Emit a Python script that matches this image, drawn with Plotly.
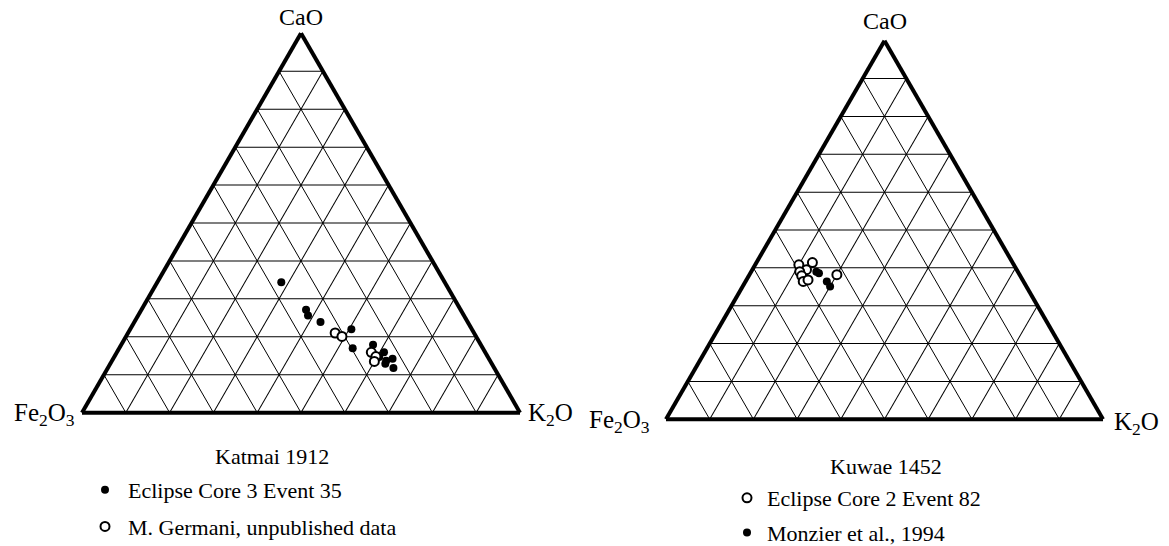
import plotly.graph_objects as go

# Katmai 1912 — Eclipse Core 3 Event 35 (wt. % normalised: CaO, Fe2O3, K2O)
katmai_e35_cao = [34.4, 27.1, 25.6, 23.9, 22.0, 17.0, 17.9, 15.9, 14.2, 12.9, 11.8, 14.7, 13.7]
katmai_e35_fe2o3 = [37.3, 35.3, 35.6, 33.6, 27.5, 29.7, 24.6, 23.1, 22.0, 24.3, 23.0, 24.8, 23.7]
katmai_e35_k2o = [28.3, 37.6, 38.8, 42.5, 50.5, 53.3, 57.5, 61.0, 63.8, 62.8, 65.2, 60.5, 62.6]

# Katmai 1912 — M. Germani, unpublished data
katmai_mg_cao = [21.0, 20.1, 15.9, 14.8, 13.5]
katmai_mg_fe2o3 = [31.7, 30.6, 26.0, 25.5, 26.5]
katmai_mg_k2o = [47.3, 49.3, 58.1, 59.7, 60.0]

# Kuwae 1452 — Eclipse Core 2 Event 82
kuwae_e82_cao = [40.8, 41.4, 39.5, 39.0, 37.9, 36.4, 36.8, 38.2]
kuwae_e82_fe2o3 = [49.2, 45.8, 48.1, 49.9, 50.0, 50.4, 49.1, 41.8]
kuwae_e82_k2o = [10.0, 12.8, 12.4, 11.1, 12.1, 13.2, 14.1, 20.0]

# Kuwae 1452 — Monzier et al., 1994
kuwae_mz_cao = [39.0, 38.6, 36.4, 35.1]
kuwae_mz_fe2o3 = [46.1, 45.7, 45.0, 44.9]
kuwae_mz_k2o = [14.9, 15.7, 18.6, 20.0]

plot_titles = ["Katmai 1912", "Kuwae 1452"]
series_names = ["Eclipse Core 3 Event 35", "M. Germani, unpublished data",
                "Eclipse Core 2 Event 82", "Monzier et al., 1994"]

W, H = 1169, 546
SERIF = "Liberation Serif, DejaVu Serif, Times New Roman, serif"


def px(x):
    return x / W


def py(y):
    return 1 - y / H


filled = dict(symbol="circle", size=8, color="black", line=dict(width=0))
hollow = dict(symbol="circle", size=9, color="white", line=dict(width=2, color="black"))

fig = go.Figure()
fig.add_trace(go.Scatterternary(
    a=katmai_e35_cao, b=katmai_e35_fe2o3, c=katmai_e35_k2o, mode="markers",
    marker=filled, name=series_names[0], subplot="ternary", legend="legend",
    legendgroup="g1"))
fig.add_trace(go.Scatterternary(
    a=katmai_mg_cao, b=katmai_mg_fe2o3, c=katmai_mg_k2o, mode="markers",
    marker=hollow, name=series_names[1], subplot="ternary", legend="legend",
    legendgroup="g2"))
fig.add_trace(go.Scatterternary(
    a=kuwae_e82_cao, b=kuwae_e82_fe2o3, c=kuwae_e82_k2o, mode="markers",
    marker=hollow, name=series_names[2], subplot="ternary2", legend="legend2",
    legendgroup="g3"))
fig.add_trace(go.Scatterternary(
    a=kuwae_mz_cao, b=kuwae_mz_fe2o3, c=kuwae_mz_k2o, mode="markers",
    marker=filled, name=series_names[3], subplot="ternary2", legend="legend2",
    legendgroup="g4"))


def tern_axis():
    return dict(
        title=dict(text=""), dtick=10, tick0=0, ticks="", showticklabels=False,
        showgrid=True, gridcolor="black", gridwidth=1,
        showline=True, linecolor="black", linewidth=4, layer="below traces",
    )


def ternary(x0, x1, y_top, y_bot):
    return dict(
        sum=100, bgcolor="white",
        domain=dict(x=[px(x0), px(x1)], y=[py(y_bot), py(y_top)]),
        aaxis=tern_axis(), baxis=tern_axis(), caxis=tern_axis(),
    )


legend_font = dict(family=SERIF, size=22, color="black")

fig.update_layout(
    width=W, height=H,
    margin=dict(l=0, r=0, t=0, b=0, autoexpand=False),
    paper_bgcolor="white", plot_bgcolor="white",
    ternary=ternary(82, 520, 33, 413),
    ternary2=ternary(666, 1103, 40.5, 419.5),
    showlegend=True,
    legend=dict(x=px(82), y=py(469), xanchor="left", yanchor="top",
                font=legend_font, bgcolor="rgba(0,0,0,0)", itemwidth=36,
                tracegroupgap=5, itemclick=False),
    legend2=dict(x=px(727), y=py(477), xanchor="left", yanchor="top",
                 font=legend_font, bgcolor="rgba(0,0,0,0)", itemwidth=30,
                 tracegroupgap=3, itemclick=False),
)

labels = [
    ("CaO", 301, 17, "center", 24),
    ("Fe<sub>2</sub>O<sub>3</sub>", 77, 414, "right", 25),
    ("K<sub>2</sub>O", 526, 414, "left", 25),
    ("CaO", 885, 21, "center", 24),
    ("Fe<sub>2</sub>O<sub>3</sub>", 652, 421, "right", 25),
    ("K<sub>2</sub>O", 1112, 423, "left", 25),
]
for text, x, y, anchor, size in labels:
    fig.add_annotation(text=text, x=px(x), y=py(y), xref="paper", yref="paper",
                       xanchor=anchor, yanchor="middle", showarrow=False,
                       font=dict(family=SERIF, size=size, color="black"))

for text, x, y in [(plot_titles[0], 272, 456), (plot_titles[1], 886, 466)]:
    fig.add_annotation(text=text, x=px(x), y=py(y), xref="paper", yref="paper",
                       xanchor="center", yanchor="middle", showarrow=False,
                       font=dict(family=SERIF, size=22, color="black"))

fig.write_html("out.html")
